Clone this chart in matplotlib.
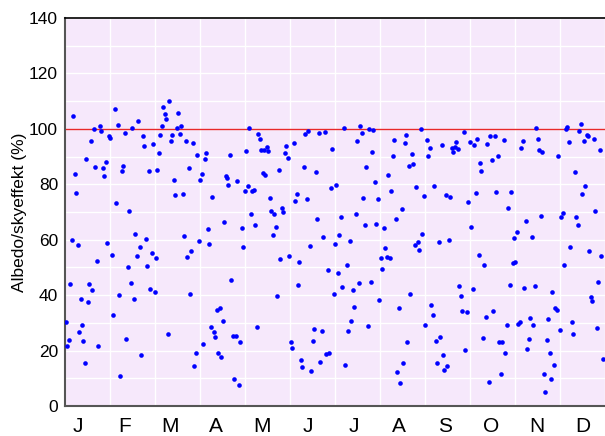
import numpy as np
import matplotlib
matplotlib.use('Agg')
import matplotlib.pyplot as plt

plt.rcParams['font.family'] = ['Liberation Sans', 'DejaVu Sans']

# daily albedo / sky effect (%), day 1 onwards
albedo = [
    30.4, 21.8, 23.9, 43.9, 60.0, 104.5, 83.8, 76.9, 58.1, 26.6,
    38.7, 29.1, 23.3, 15.4, 89.1, 37.6, 44.0, 95.6, 42.0, 100.0,
    86.1, 52.4, 21.8, 101.2, 99.1, 85.9, 82.9, 87.9, 58.7, 97.3,
    96.8, 54.5, 33.0, 107.2, 73.2, 101.5, 40.2, 10.9, 84.8, 86.6,
    98.6, 24.1, 50.3, 70.2, 44.4, 100.4, 38.5, 62.2, 54.2, 102.8,
    57.4, 18.3, 97.4, 93.9, 60.3, 50.5, 84.7, 42.3, 55.3, 94.5,
    41.3, 53.3, 85.0, 91.2, 97.9, 101.0, 107.8, 105.4, 103.7, 26.1,
    109.9, 95.5, 97.8, 81.5, 76.1, 100.3, 105.7, 98.3, 101.2, 76.5,
    61.3, 95.5, 53.9, 86.0, 40.3, 56.0, 95.0, 14.3, 19.0, 90.6,
    59.5, 81.5, 83.8, 22.5, 89.1, 91.2, 63.7, 58.6, 28.6, 75.3,
    26.8, 24.8, 34.6, 19.1, 35.5, 17.6, 30.8, 66.4, 83.0, 82.3,
    79.6, 90.7, 45.3, 25.3, 9.9, 25.1, 81.3, 7.7, 23.2, 64.3,
    57.4, 77.5, 92.0, 79.5, 100.4, 69.2, 77.7, 77.9, 65.2, 28.6,
    98.0, 96.5, 92.3, 84.2, 92.3, 83.4, 93.3, 92.1, 75.1, 70.2,
    61.8, 69.3, 64.6, 39.8, 85.2, 53.0, 71.4, 70.0, 91.4, 93.9,
    89.6, 54.1, 23.1, 20.9, 94.9, 74.1, 76.6, 43.8, 52.0, 16.6,
    14.1, 86.4, 98.3, 74.8, 99.1, 57.9, 12.7, 23.5, 27.7, 84.6,
    67.6, 98.5, 15.8, 27.2, 61.1, 99.0, 18.9, 49.1, 19.2, 78.7,
    92.7, 40.3, 58.6, 79.9, 48.0, 61.6, 68.3, 42.9, 100.4, 14.7,
    50.9, 26.9, 59.5, 30.8, 41.9, 35.7, 69.2, 95.6, 44.3, 101.2,
    98.4, 75.2, 65.2, 86.4, 29.0, 100.0, 44.9, 91.8, 99.5, 80.7,
    65.8, 74.8, 38.1, 53.4, 49.3, 64.3, 56.9, 53.6, 83.2, 53.3,
    77.7, 90.1, 96.1, 67.6, 12.1, 35.4, 8.2, 71.0, 15.6, 95.0,
    97.8, 23.0, 86.6, 40.4, 91.0, 87.2, 58.1, 79.0, 59.2, 56.2,
    100.0, 62.1, 75.8, 29.1, 96.0, 90.3, 93.2, 36.6, 33.0, 79.5,
    23.6, 15.5, 59.1, 24.9, 94.1, 18.3, 13.0, 76.3, 14.3, 59.9,
    75.4, 93.2, 91.5, 93.5, 95.1, 92.6, 43.4, 39.8, 34.3, 99.0,
    20.2, 33.8, 73.6, 95.3, 64.7, 42.1, 94.1, 77.0, 96.3, 54.4,
    87.7, 84.7, 24.7, 51.0, 32.1, 94.4, 8.7, 97.3, 88.9, 34.4,
    97.4, 77.3, 90.2, 23.2, 11.5, 23.2, 96.0, 19.2, 29.2, 71.4,
    43.8, 77.1, 51.6, 60.7, 52.0, 62.7, 29.5, 30.2, 93.0, 95.6,
    42.7, 66.6, 20.7, 24.3, 31.9, 61.0, 29.3, 43.4, 100.3, 96.5,
    92.4, 68.6, 91.5, 11.5, 4.9, 23.7, 31.5, 19.2, 9.9, 41.3,
    14.9, 35.4, 34.8, 90.2, 27.4, 68.1, 69.6, 51.0, 100.0, 100.8,
    95.3, 57.5, 30.2, 26.1, 84.3, 68.1, 65.4, 99.1, 101.9, 76.5,
    95.7, 79.4, 97.8, 97.4, 55.8, 39.2, 38.0, 96.5, 70.5, 28.1,
    44.7, 92.3, 54.2, 16.8,
]
days = np.arange(1, len(albedo) + 1)

month_labels = ['J', 'F', 'M', 'A', 'M', 'J', 'J', 'A', 'S', 'O', 'N', 'D']

# vertical grid splits the year in 12 equal parts, labels sit early in each part
grid_x = 0.5 + np.arange(13) * 365 / 12
label_x = 9.5 + 31.0 * np.arange(12)

fig = plt.figure(figsize=(6.05, 4.36), dpi=100)
ax = fig.add_axes([65/605, 1 - 406/436, 1 - 65/605, (406 - 18)/436])
ax.set_facecolor('#f6e8fb')

ax.scatter(days, albedo, s=11, color='#0000ff', zorder=3, linewidths=0)
ax.axhline(100, color='#e8282a', lw=1.0, zorder=2)

ax.set_xlim(0.5, 365.5)
ax.set_ylim(0, 140)

ax.set_yticks(np.arange(0, 141, 20))
ax.set_yticks(np.arange(0, 141, 10), minor=True)
ax.set_xticks(label_x)
ax.set_xticklabels(month_labels, fontsize=15)
ax.set_xticks(grid_x, minor=True)
ax.tick_params(axis='y', labelsize=12.5, length=0, which='both', pad=5)
ax.tick_params(axis='x', length=0, which='both', pad=8)

ax.grid(False, which='major')
ax.grid(True, which='minor', color='white', lw=1.0, zorder=1)
ax.grid(True, which='major', axis='y', color='white', lw=1.0, zorder=1)

for side in ['left', 'bottom']:
    ax.spines[side].set_color('#555555')
    ax.spines[side].set_linewidth(1.5)
ax.spines['top'].set_color('black')
ax.spines['top'].set_linewidth(1.2)
ax.spines['right'].set_visible(False)

ax.set_ylabel('Albedo/skyeffekt (%)', fontsize=12.5)
ax.yaxis.set_label_coords((27 - 65) / 540, 0.5)

fig.savefig('out.png', dpi=100)
